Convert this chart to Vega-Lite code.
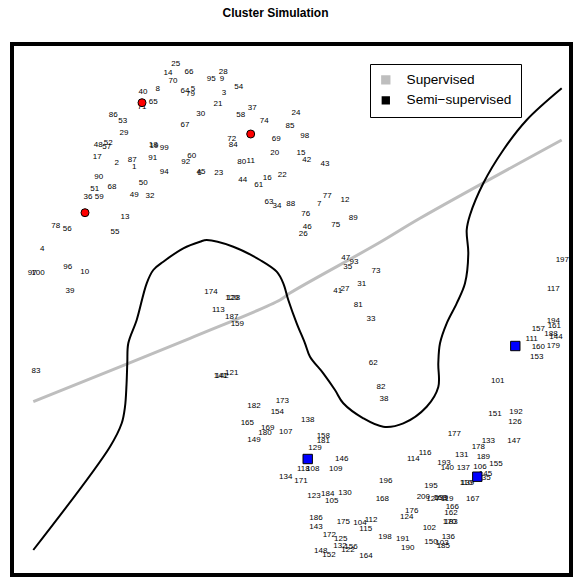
{
"$schema":"https://vega.github.io/schema/vega-lite/v6.json",
"width":559,"height":531,"autosize":"none",
"padding":{"left":12,"top":44,"right":3,"bottom":4},
"title":{"text":"Cluster Simulation","font":"Liberation Sans","fontSize":12,"fontWeight":"bold","color":"black","anchor":"middle","dx":-16,"offset":15,"baseline":"alphabetic"},
"config":{"view":{"stroke":"black","strokeWidth":4}},
"encoding":{
  "x":{"field":"x","type":"quantitative","scale":{"domain":[0,559],"nice":false,"zero":false},"axis":null},
  "y":{"field":"y","type":"quantitative","scale":{"domain":[0,531],"nice":false,"zero":false},"axis":null}
},
"datasets":{
"lines":[
{"m":"Supervised","o":1,"x":21.3,"y":173.3},{"m":"Supervised","o":2,"x":178,"y":236.7},{"m":"Supervised","o":3,"x":268,"y":275},{"m":"Supervised","o":4,"x":278,"y":282},{"m":"Supervised","o":5,"x":366.3,"y":331.7},{"m":"Supervised","o":6,"x":408,"y":356.7},{"m":"Supervised","o":7,"x":549.7,"y":435},
{"m":"Semi−supervised","o":1,"x":21.3,"y":25},{"m":"Semi−supervised","o":2,"x":98,"y":128.3},{"m":"Semi−supervised","o":3,"x":109.7,"y":151.7},{"m":"Semi−supervised","o":4,"x":113,"y":168.3},{"m":"Semi−supervised","o":5,"x":114.5,"y":190},{"m":"Semi−supervised","o":6,"x":115.3,"y":212},{"m":"Semi−supervised","o":7,"x":116.3,"y":231.7},{"m":"Semi−supervised","o":8,"x":124.7,"y":255},{"m":"Semi−supervised","o":9,"x":134.7,"y":291.7},{"m":"Semi−supervised","o":10,"x":141.3,"y":305},{"m":"Semi−supervised","o":11,"x":151.3,"y":313.3},{"m":"Semi−supervised","o":12,"x":171.3,"y":326.7},{"m":"Semi−supervised","o":13,"x":188,"y":333.3},{"m":"Semi−supervised","o":14,"x":194.7,"y":335},{"m":"Semi−supervised","o":15,"x":221.3,"y":328.3},{"m":"Semi−supervised","o":16,"x":248,"y":315},{"m":"Semi−supervised","o":17,"x":264.7,"y":303.3},{"m":"Semi−supervised","o":18,"x":271.3,"y":291.7},{"m":"Semi−supervised","o":19,"x":276.3,"y":275},{"m":"Semi−supervised","o":20,"x":284.7,"y":251.7},{"m":"Semi−supervised","o":21,"x":293,"y":231.7},{"m":"Semi−supervised","o":22,"x":298,"y":218.3},{"m":"Semi−supervised","o":23,"x":311.3,"y":201.7},{"m":"Semi−supervised","o":24,"x":323,"y":185},{"m":"Semi−supervised","o":25,"x":331.3,"y":171.7},{"m":"Semi−supervised","o":26,"x":351.3,"y":156.7},{"m":"Semi−supervised","o":27,"x":371.3,"y":148.3},{"m":"Semi−supervised","o":28,"x":391.3,"y":151.7},{"m":"Semi−supervised","o":29,"x":414.7,"y":168.3},{"m":"Semi−supervised","o":30,"x":426.3,"y":188},{"m":"Semi−supervised","o":31,"x":426.3,"y":211.7},{"m":"Semi−supervised","o":32,"x":428,"y":231.7},{"m":"Semi−supervised","o":33,"x":434.7,"y":251.7},{"m":"Semi−supervised","o":34,"x":444.7,"y":271.7},{"m":"Semi−supervised","o":35,"x":453,"y":291.7},{"m":"Semi−supervised","o":36,"x":456.3,"y":321.7},{"m":"Semi−supervised","o":37,"x":454.7,"y":345},{"m":"Semi−supervised","o":38,"x":458,"y":360},{"m":"Semi−supervised","o":39,"x":471.3,"y":391.7},{"m":"Semi−supervised","o":40,"x":491.3,"y":425},{"m":"Semi−supervised","o":41,"x":514.7,"y":455},{"m":"Semi−supervised","o":42,"x":549.7,"y":486.7}
],
"labels":[
{"l":"1","x":122.3,"y":408},{"l":"2","x":104.7,"y":412.3},{"l":"3","x":212,"y":481.7},{"l":"4","x":30.3,"y":326},{"l":"5","x":181,"y":486.5},{"l":"6","x":187.5,"y":402.5},{"l":"7","x":307.3,"y":371},{"l":"8","x":145.7,"y":486.3},{"l":"9","x":210,"y":496},{"l":"10","x":72.7,"y":303.3},
{"l":"11","x":238.7,"y":414.3},{"l":"12","x":333,"y":375},{"l":"13","x":113,"y":358},{"l":"14","x":156,"y":502.3},{"l":"15","x":289,"y":421.7},{"l":"16","x":255.3,"y":396.7},{"l":"17","x":85.3,"y":417.7},{"l":"18","x":141.3,"y":429.7},{"l":"19","x":142,"y":429.5},{"l":"20","x":262.7,"y":422.3},
{"l":"21","x":206,"y":470.7},{"l":"22","x":270.3,"y":399.7},{"l":"23","x":206.7,"y":402.3},{"l":"24","x":284,"y":461.7},{"l":"25","x":163.7,"y":511},{"l":"26","x":291.3,"y":341},{"l":"27","x":333,"y":286.3},{"l":"28","x":211.3,"y":503.3},{"l":"29","x":112,"y":442.3},{"l":"30","x":188.7,"y":461},
{"l":"31","x":349.7,"y":291.3},{"l":"32","x":138,"y":379},{"l":"33","x":359,"y":256.3},{"l":"34","x":265,"y":368.7},{"l":"35","x":335.7,"y":307.7},{"l":"36","x":76,"y":377.7},{"l":"37","x":240.3,"y":466.7},{"l":"38","x":372,"y":176},{"l":"39","x":58,"y":284.3},{"l":"40","x":131,"y":483.3},
{"l":"41","x":325.7,"y":284},{"l":"42","x":294.7,"y":414.7},{"l":"43","x":313,"y":411.3},{"l":"44","x":230.7,"y":395.3},{"l":"45","x":189,"y":402.7},{"l":"46","x":295.3,"y":347.7},{"l":"47","x":333.7,"y":317.3},{"l":"48","x":86.3,"y":430},{"l":"49","x":122.3,"y":379.7},{"l":"50","x":131.3,"y":392.3},
{"l":"51","x":82.7,"y":386},{"l":"52","x":96.3,"y":432},{"l":"53","x":110.7,"y":453.7},{"l":"54","x":226.7,"y":488.3},{"l":"55","x":103,"y":343},{"l":"56","x":55.3,"y":346.3},{"l":"57","x":94.7,"y":427.7},{"l":"58","x":228.7,"y":460.3},{"l":"59","x":87.3,"y":377.7},{"l":"60","x":179.7,"y":419},
{"l":"61","x":246.7,"y":390.3},{"l":"62","x":361.3,"y":212.3},{"l":"63","x":257,"y":373.3},{"l":"64","x":173,"y":484.3},{"l":"65","x":141.3,"y":473.3},{"l":"66","x":177,"y":503.3},{"l":"67","x":173,"y":450.3},{"l":"68","x":100,"y":387.7},{"l":"69","x":264.3,"y":435.7},{"l":"70","x":161,"y":493.7},
{"l":"71","x":130,"y":468.3},{"l":"72","x":219.7,"y":436},{"l":"73","x":364,"y":304},{"l":"74","x":252.3,"y":454.3},{"l":"75","x":323.7,"y":350.3},{"l":"76","x":293.7,"y":361.3},{"l":"77","x":315.3,"y":379},{"l":"78","x":43.7,"y":349.3},{"l":"79","x":178.5,"y":481.5},{"l":"80","x":229.7,"y":413.3},
{"l":"81","x":346.3,"y":270},{"l":"82","x":369,"y":188},{"l":"83","x":24,"y":204},{"l":"84","x":221.3,"y":430},{"l":"85","x":278,"y":449.3},{"l":"86","x":101.3,"y":460.3},{"l":"87","x":120.3,"y":415},{"l":"88","x":278.7,"y":371.3},{"l":"89","x":341.3,"y":357.3},{"l":"90","x":86.7,"y":398.3},
{"l":"91","x":140.7,"y":417.3},{"l":"92","x":173.7,"y":413},{"l":"93","x":342,"y":312.7},{"l":"94","x":152.3,"y":403.3},{"l":"95","x":199.3,"y":496.3},{"l":"96","x":55.7,"y":308},{"l":"97","x":20.3,"y":301.7},{"l":"98","x":292.7,"y":439.3},{"l":"99","x":152.3,"y":427.3},{"l":"100","x":26,"y":301.7},
{"l":"101","x":485.7,"y":194.2},{"l":"102","x":417.3,"y":47.3},{"l":"103","x":430,"y":32},{"l":"104","x":348,"y":52.3},{"l":"105","x":319.7,"y":74.3},{"l":"106","x":468,"y":108.3},{"l":"107","x":273.7,"y":143},{"l":"108","x":300.7,"y":106.3},{"l":"109","x":323.7,"y":106.3},{"l":"110","x":454,"y":92.3},
{"l":"111","x":519.7,"y":235.7},{"l":"112","x":359,"y":55},{"l":"113","x":206.3,"y":265.3},{"l":"114","x":401.3,"y":116},{"l":"115","x":353.7,"y":46.3},{"l":"116","x":413,"y":122.3},{"l":"117","x":541.3,"y":286},{"l":"118","x":291.3,"y":105.7},{"l":"119","x":435,"y":76.3},{"l":"120","x":220,"y":276.7},
{"l":"121","x":219.7,"y":202.3},{"l":"122","x":336,"y":25.5},{"l":"123","x":302,"y":79},{"l":"124","x":394.7,"y":58.3},{"l":"125","x":328.7,"y":36},{"l":"126","x":503,"y":153.3},{"l":"127","x":421,"y":76.3},{"l":"128","x":221.5,"y":276.7},{"l":"129","x":303,"y":127.3},{"l":"130","x":333,"y":82.3},
{"l":"131","x":449.7,"y":120},{"l":"132","x":328,"y":29.3},{"l":"133","x":476.3,"y":134},{"l":"134","x":273.7,"y":98},{"l":"135","x":472,"y":97},{"l":"136","x":436.3,"y":38},{"l":"137","x":451.3,"y":107.3},{"l":"138","x":295.7,"y":155},{"l":"139","x":455.5,"y":92.3},{"l":"140","x":435.3,"y":107},
{"l":"141","x":208.5,"y":199.3},{"l":"142","x":210,"y":199.3},{"l":"143","x":304,"y":48.3},{"l":"144","x":544,"y":238},{"l":"145","x":473.5,"y":101},{"l":"146","x":329.7,"y":116},{"l":"147","x":502,"y":134.3},{"l":"148","x":308.7,"y":24.3},{"l":"149","x":242,"y":135},{"l":"150","x":419,"y":32.7},
{"l":"151","x":483,"y":161},{"l":"152","x":317,"y":20.3},{"l":"153","x":524.7,"y":218.3},{"l":"154","x":265.3,"y":163},{"l":"155","x":484,"y":111.3},{"l":"156","x":339,"y":28.5},{"l":"157","x":526.3,"y":245.7},{"l":"158","x":311.3,"y":139},{"l":"159","x":225.3,"y":251.3},{"l":"160","x":526.3,"y":227.7},
{"l":"161","x":542.3,"y":249.3},{"l":"162","x":439,"y":62},{"l":"163","x":428,"y":77},{"l":"164","x":354,"y":19},{"l":"165","x":235.3,"y":152},{"l":"166","x":440.3,"y":68},{"l":"167","x":460.7,"y":75.7},{"l":"168","x":370.3,"y":76.3},{"l":"169","x":255.7,"y":147.3},{"l":"170","x":437.5,"y":53},
{"l":"171","x":289,"y":94.3},{"l":"172","x":317.3,"y":39.7},{"l":"173","x":270.3,"y":174.3},{"l":"174","x":199,"y":283.3},{"l":"175","x":331.3,"y":53.3},{"l":"176","x":399.7,"y":64.3},{"l":"177","x":442.3,"y":140.7},{"l":"178","x":466.3,"y":128.3},{"l":"179","x":541.3,"y":229.3},{"l":"180","x":253,"y":142.3},
{"l":"181","x":311.3,"y":134.3},{"l":"182","x":242,"y":169.3},{"l":"183","x":439,"y":53.5},{"l":"184","x":315.7,"y":80.7},{"l":"185","x":431.3,"y":29},{"l":"186","x":304,"y":57.3},{"l":"187","x":219.7,"y":258.3},{"l":"188","x":539,"y":241},{"l":"189","x":471.3,"y":118.3},{"l":"190","x":395.7,"y":27},
{"l":"191","x":390.7,"y":36},{"l":"192","x":504,"y":163.3},{"l":"193","x":432,"y":111.7},{"l":"194","x":541.3,"y":254},{"l":"195","x":419,"y":89},{"l":"196","x":373.7,"y":94.3},{"l":"197","x":550.3,"y":315},{"l":"198","x":373,"y":38.3},{"l":"199","x":429.5,"y":77.3},{"l":"200","x":411.3,"y":78.3}
],
"reds":[{"x":130,"y":472.3},{"x":238.7,"y":441},{"x":73,"y":362.3}],
"blues":[{"x":503.3,"y":229},{"x":295.7,"y":116},{"x":465.3,"y":98.3}]
},
"layer":[
{"data":{"name":"lines"},
 "mark":{"type":"line","interpolate":"catmull-rom"},
 "encoding":{
  "order":{"field":"o","type":"quantitative"},
  "color":{"field":"m","type":"nominal","scale":{"domain":["Supervised","Semi−supervised"],"range":["#bebebe","black"]},
   "legend":{"orient":"none","legendX":358,"legendY":20,"title":null,"strokeColor":"black","fillColor":"white","padding":9,"symbolType":"square","symbolSize":40,"symbolStrokeColor":"black","symbolStrokeWidth":1,"labelFontSize":13.6,"labelFont":"Liberation Sans","labelColor":"black","labelOffset":14,"rowPadding":3.5,
    "encode":{"symbols":{"update":{"fill":{"scale":"color","field":"value"},"stroke":{"value":"black"},"strokeWidth":{"value":1},"opacity":{"value":1}}}}}},
  "strokeWidth":{"field":"m","type":"nominal","scale":{"domain":["Supervised","Semi−supervised"],"range":[3,2]},"legend":null}
 }},
{"data":{"name":"labels"},
 "mark":{"type":"text","font":"Liberation Sans","fontSize":8,"color":"black","align":"center","baseline":"middle"},
 "encoding":{
  "text":{"field":"l","type":"nominal"}
 }},
{"data":{"name":"reds"},
 "mark":{"type":"point","shape":"circle","filled":true,"fill":"#ff0000","stroke":"black","strokeWidth":1,"size":64,"opacity":1},
 "encoding":{}},
{"data":{"name":"blues"},
 "mark":{"type":"point","shape":"square","filled":true,"fill":"#0000ff","stroke":"black","strokeWidth":1,"size":88,"opacity":1},
 "encoding":{}}
]
}
